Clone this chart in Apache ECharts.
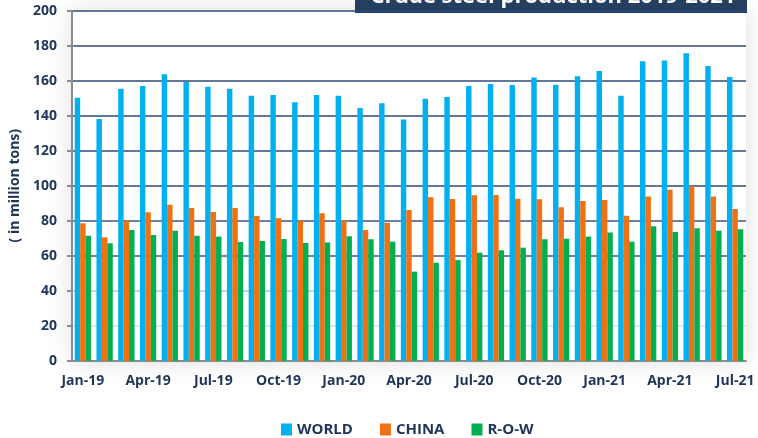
<!DOCTYPE html>
<html>
<head>
<meta charset="utf-8">
<title>Crude steel production 2019-2021</title>
<script src="https://cdn.jsdelivr.net/npm/echarts@6/dist/echarts.min.js"></script>
<style>
  html, body { margin: 0; padding: 0; background: #fff; }
  #chart { width: 758px; height: 438px; }
</style>
</head>
<body>
<div id="chart"></div>
<script>
// months Jan-19 .. Jul-21
const months = [
  'Jan-19', 'Feb-19', 'Mar-19', 'Apr-19', 'May-19', 'Jun-19', 'Jul-19', 'Aug-19', 'Sep-19', 'Oct-19', 'Nov-19', 'Dec-19',
  'Jan-20', 'Feb-20', 'Mar-20', 'Apr-20', 'May-20', 'Jun-20', 'Jul-20', 'Aug-20', 'Sep-20', 'Oct-20', 'Nov-20', 'Dec-20',
  'Jan-21', 'Feb-21', 'Mar-21', 'Apr-21', 'May-21', 'Jun-21', 'Jul-21'
]

// values in million tons
const world = [
  150.3, 138.1, 155.4, 157.0, 163.7, 159.3, 156.6, 155.4, 151.4, 151.8, 147.7, 151.8,
  151.4, 144.4, 147.1, 137.9, 149.7, 150.7, 157.0, 158.1, 157.6, 161.9, 157.7, 162.5,
  165.5, 151.4, 171.1, 171.6, 175.7, 168.4, 162.1
]
const china = [
  78.5, 70.5, 80.0, 84.8, 89.1, 87.3, 85.0, 87.3, 82.7, 81.4, 80.0, 84.2,
  80.0, 74.7, 78.9, 86.1, 93.4, 92.4, 94.5, 94.7, 92.6, 92.2, 87.7, 91.3,
  91.8, 82.9, 93.9, 97.7, 99.8, 93.9, 86.7
]
const row = [
  71.4, 67.1, 74.7, 71.8, 74.3, 71.4, 70.9, 67.8, 68.4, 69.5, 67.3, 67.6,
  71.1, 69.4, 68.0, 50.9, 56.0, 57.5, 61.7, 63.1, 64.6, 69.4, 69.7, 70.9,
  73.3, 68.0, 76.8, 73.5, 75.7, 74.3, 75.1
]

const seriesNames = ['WORLD', 'CHINA', 'R-O-W']
const seriesColors = ['#00B0F0', '#F07112', '#00B050']
const navy = '#1F3557'
const labelFont = "'Open Sans', sans-serif"

const chart = echarts.init(document.getElementById('chart'))

chart.setOption({
  backgroundColor: '#fff',
  animation: false,
  grid: {
    left: 71,
    right: 12,
    top: 10.7,
    bottom: 77.3,
    show: true,
    backgroundColor: '#fff',
    borderWidth: 0,
    shadowBlur: 22,
    shadowColor: 'rgba(0,0,0,0.14)'
  },
  // title box at top right, text partly cut by the top edge
  graphic: [
    {
      type: 'rect',
      shape: { x: 355, y: 0, width: 392, height: 13 },
      style: { fill: '#243F60' }
    },
    {
      type: 'text',
      x: 553,
      y: 8,
      style: {
        text: 'Crude steel production 2019-2021',
        fill: '#fff',
        font: "bold 22px 'Open Sans', sans-serif",
        textAlign: 'center',
        textVerticalAlign: 'bottom'
      }
    }
  ],
  legend: {
    data: seriesNames,
    top: 417,
    left: 276,
    itemWidth: 11,
    itemHeight: 12,
    itemGap: 27,
    icon: 'rect',
    textStyle: {
      color: navy,
      fontWeight: 'bold',
      fontSize: 15,
      fontFamily: labelFont
    }
  },
  xAxis: {
    type: 'category',
    data: months,
    axisLine: { lineStyle: { color: '#8c8c8c', width: 2 } },
    axisTick: { interval: 2, length: 5, lineStyle: { color: '#8c8c8c', width: 2 } },
    axisLabel: {
      interval: 2,
      color: navy,
      fontWeight: 'bold',
      fontSize: 14,
      fontFamily: labelFont,
      margin: 13
    },
    splitLine: { show: false }
  },
  yAxis: {
    type: 'value',
    min: 0,
    max: 200,
    interval: 20,
    name: '( in million tons)',
    nameLocation: 'middle',
    nameGap: 50,
    nameTextStyle: {
      color: navy,
      fontWeight: 'bold',
      fontSize: 14,
      fontFamily: labelFont
    },
    axisLine: { show: true, lineStyle: { color: '#8c8c8c', width: 2 } },
    axisTick: { show: true, length: 5, lineStyle: { color: '#8c8c8c', width: 2 } },
    axisLabel: {
      color: navy,
      fontWeight: 'bold',
      fontSize: 14,
      fontFamily: labelFont,
      margin: 15
    },
    splitLine: {
      lineStyle: {
        width: 1.5,
        color: ['#8c8c8c', '#d6dff0', '#b3c3e0', '#3A5683', '#3A5683', '#2E4A78',
          '#2E4A78', '#2E4A78', '#2E4A78', '#2E4A78', '#2E4A78']
      }
    }
  },
  series: [world, china, row].map((data, i) => ({
    name: seriesNames[i],
    type: 'bar',
    data: data,
    barGap: '0%',
    barCategoryGap: '25%',
    itemStyle: { color: seriesColors[i] }
  }))
})
</script>
</body>
</html>
